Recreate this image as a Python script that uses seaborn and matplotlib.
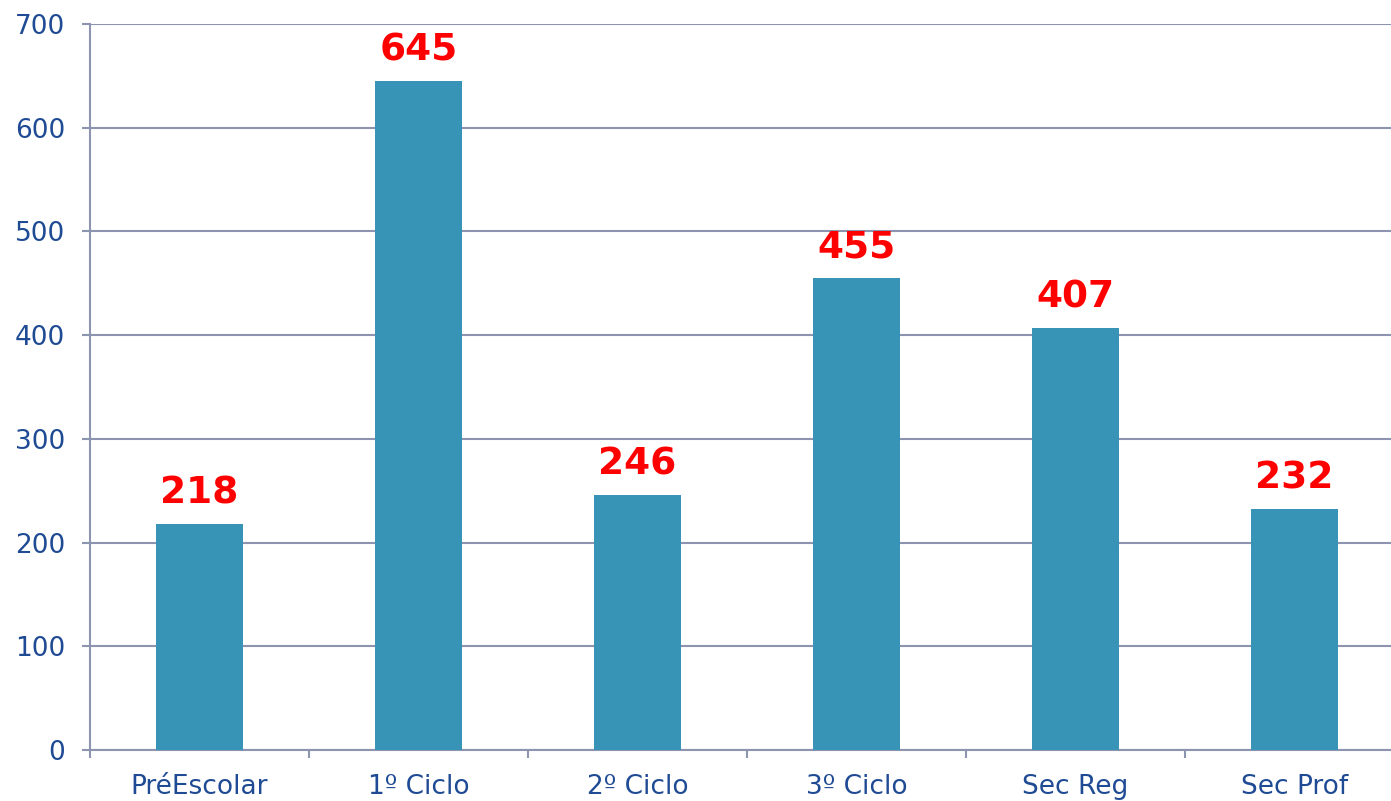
import numpy as np
import pandas as pd
import matplotlib
matplotlib.use("Agg")
import matplotlib.pyplot as plt
from matplotlib.ticker import FixedLocator
import seaborn as sns

# data
categories = ['PréEscolar', '1º Ciclo', '2º Ciclo', '3º Ciclo', 'Sec Reg', 'Sec Prof']
values = [218, 645, 246, 455, 407, 232]

bar_color = '#3794B6'
grid_color = '#8C94B0'
text_color = '#1F4A94'

sns.set_style('white')
plt.rcParams['font.family'] = ['DejaVu Sans']

df = pd.DataFrame({'cat': categories, 'val': values})

fig = plt.figure(figsize=(13.91, 8.01), dpi=100)
# the plot area runs a little past the right edge of the picture, as in the original
ax = fig.add_axes([0.0647, 0.0637, 0.9447, 0.9063])

sns.barplot(data=df, x='cat', y='val', color=bar_color, width=0.4,
            saturation=1, linewidth=0, edgecolor=bar_color, ax=ax, zorder=3)

ax.set_xlim(-0.5, len(categories) - 0.5)
ax.set_ylim(0, 700)
ax.set_yticks(np.arange(0, 701, 100))
ax.yaxis.grid(True, color=grid_color, linewidth=1.5, zorder=0)
ax.set_axisbelow(True)

# value labels
for i, v in enumerate(values):
    ax.annotate(str(v), (i, v), xytext=(0, 9), textcoords='offset points',
                ha='center', va='bottom', color='#FF0000',
                fontsize=27, fontweight='bold')

for s in ['top', 'right']:
    ax.spines[s].set_visible(False)
for s in ['left', 'bottom']:
    ax.spines[s].set_color(grid_color)
    ax.spines[s].set_linewidth(1.5)

# x ticks at category boundaries
ax.xaxis.set_minor_locator(FixedLocator(np.arange(-0.5, len(categories), 1.0)))
ax.tick_params(axis='x', which='major', length=0, pad=17, labelsize=19,
               labelcolor=text_color)
ax.tick_params(axis='x', which='minor', length=6, width=1.5, color=grid_color,
               direction='out', bottom=True)
ax.tick_params(axis='y', which='major', length=6, width=1.5, color=grid_color,
               direction='out', left=True, pad=12, labelsize=19,
               labelcolor=text_color)

ax.set_xlabel('')
ax.set_ylabel('')

fig.savefig('out.png', dpi=100)
